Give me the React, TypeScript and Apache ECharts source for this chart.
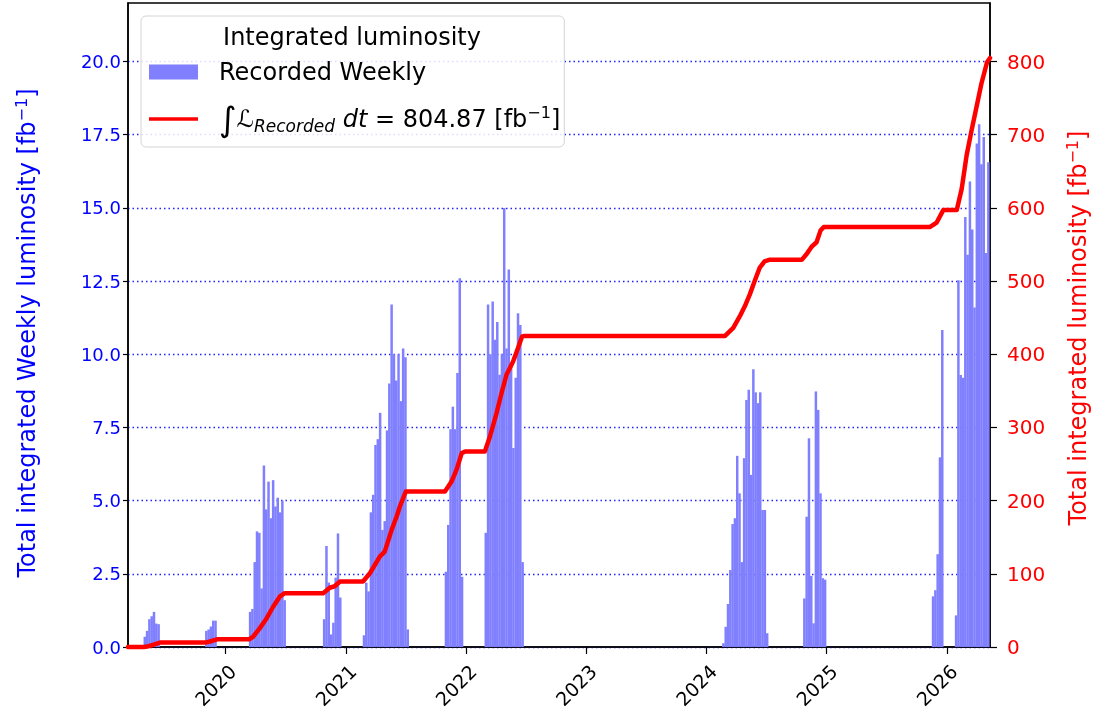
import React, { useEffect, useRef } from 'react';
import * as echarts from 'echarts';

const FONT = 'DejaVu Sans';
const DAY = 86400000;
const ts = (s: string) => {
  const [y, m, d] = s.split('-').map(Number);
  return Date.UTC(y, m - 1, d);
};

// x range and ticks
const xStart = '2019-03-11';
const xEnd = '2026-05-12';
const yearTicks = ['2020-01-01', '2021-01-01', '2022-01-01', '2023-01-01', '2024-01-01', '2025-01-01', '2026-01-01'];
const leftTicks = [0, 2.5, 5, 7.5, 10, 12.5, 15, 17.5, 20];
const rightTicks = [0, 100, 200, 300, 400, 500, 600, 700, 800];

// weekly recorded luminosity [fb^-1], runs of consecutive weeks (first week centre date)
const run2019aStart = '2019-05-01';
const run2019a = [0.35, 0.55, 0.95, 1.05, 1.2, 0.8, 0.78];
const run2019bStart = '2019-11-04';
const run2019b = [0.55, 0.6, 0.7, 0.9, 0.9];
const run2020Start = '2020-03-16';
const run2020 = [1.2, 1.3, 2.9, 3.95, 3.9, 2.0, 6.2, 4.7, 5.65, 4.4, 5.7, 4.8, 5.1, 4.6, 5.0, 1.6];
const run2020bStart = '2020-10-27';
const run2020b = [0.95, 3.45, 2.2, 0.43, 0.83, 2.37, 3.88, 1.69];
const run2021Start = '2021-02-25';
const run2021 = [0.4, 2.2, 1.9, 4.6, 5.2, 6.9, 7.1, 8.0, 4.0, 4.3, 7.4, 9.0, 11.7, 10.0, 9.1, 10.0, 8.4, 10.2, 9.9, 0.6];
const run2021bStart = '2021-11-01';
const run2021b = [2.57, 4.17, 7.44, 8.21, 7.44, 9.36, 12.6, 2.4];
const run2022Start = '2022-03-02';
const run2022 = [3.9, 11.7, 10.0, 11.8, 10.5, 11.1, 9.3, 10.0, 15.0, 10.2, 12.9, 9.6, 6.8, 9.2, 11.4, 11.0, 2.9];
const run2024Start = '2024-02-22';
const run2024 = [0.13, 0.69, 1.47, 2.63, 4.2, 4.4, 6.53, 5.25, 2.9, 6.45, 8.44, 8.79, 5.88, 9.49, 8.7, 8.33, 8.7, 4.68, 4.68, 0.47];
const run2024bStart = '2024-10-25';
const run2024b = [1.66, 4.45, 7.13, 2.43, 0.81, 8.73, 8.1, 5.25, 2.35, 2.3];
const run2025Start = '2025-11-20';
const run2025 = [1.73, 1.94, 3.17, 6.48, 10.83];
const run2026Start = '2026-01-29';
const run2026 = [1.08, 12.53, 9.29, 9.2, 14.69, 13.4, 15.9, 14.26, 11.6, 17.2, 17.86, 16.49, 17.42, 13.46, 16.56];

// cumulative recorded luminosity [fb^-1]
const cumDates = [
  '2019-03-11', '2019-04-28', '2019-05-12', '2019-05-26', '2019-06-16', '2019-11-01', '2019-11-15', '2019-12-06',
  '2020-03-13', '2020-03-25', '2020-04-14', '2020-05-05', '2020-05-25', '2020-06-14', '2020-06-29',
  '2020-10-24', '2020-11-13', '2020-11-28', '2020-12-14',
  '2021-02-22', '2021-03-15', '2021-04-14', '2021-04-29', '2021-05-20', '2021-06-04', '2021-06-14', '2021-07-02',
  '2021-10-29', '2021-11-18', '2021-12-03', '2021-12-19', '2021-12-29',
  '2022-02-27', '2022-03-15', '2022-04-04', '2022-04-19', '2022-05-04', '2022-05-24', '2022-06-08', '2022-06-20', '2022-06-27',
  '2024-02-27', '2024-03-23', '2024-04-12', '2024-04-27', '2024-05-12', '2024-05-27', '2024-06-11', '2024-06-26', '2024-07-10',
  '2024-10-17', '2024-11-01', '2024-11-16', '2024-12-01', '2024-12-13', '2024-12-23',
  '2025-11-11', '2025-12-01', '2025-12-21',
  '2026-01-31', '2026-02-15', '2026-03-02', '2026-03-17', '2026-04-01', '2026-04-16', '2026-05-03', '2026-05-12',
];
const cumValues = [
  0, 0, 1.0, 3.0, 6, 6, 7.5, 10.5,
  10.5, 14, 25.5, 39, 55, 68.8, 73.5,
  73.5, 81, 83, 89.5,
  89.5, 100.8, 123.5, 130.4, 160, 178, 192, 212.5,
  212.5, 226, 242, 265, 267,
  267, 288, 320, 347, 372, 390, 408.6, 424, 425,
  425, 436, 452, 465.5, 481.5, 500, 518, 527, 529,
  529, 537, 547, 553, 569, 574,
  574, 580, 597,
  597, 626, 672, 706, 738, 770, 799, 804.87,
];

const runs: [string, number[]][] = [
  [run2019aStart, run2019a], [run2019bStart, run2019b], [run2020Start, run2020], [run2020bStart, run2020b],
  [run2021Start, run2021], [run2021bStart, run2021b], [run2022Start, run2022], [run2024Start, run2024],
  [run2024bStart, run2024b], [run2025Start, run2025], [run2026Start, run2026],
];

const BAR_NAME = 'Recorded Weekly';
const LINE_NAME = 'Integrated';

export default function App() {
  const ref = useRef<HTMLDivElement>(null);
  useEffect(() => {
    if (!ref.current) return;
    const chart = echarts.init(ref.current, undefined, { renderer: 'svg' });
    const barData: [number, number][] = [];
    runs.forEach(([start, vals]) => {
      vals.forEach((v, i) => barData.push([ts(start) + i * 7 * DAY, v]));
    });
    const lineData = cumDates.map((d, i) => [ts(d), cumValues[i]]);
    const yearTs = yearTicks.map(ts);

    chart.setOption({
      animation: false,
      textStyle: { fontFamily: FONT },
      grid: { left: 128, right: 118, top: 3, bottom: 78, show: true, borderColor: '#000', borderWidth: 1.5 },
      legend: {
        orient: 'vertical',
        left: 141,
        top: 16,
        padding: [41, 4, 11, 8],
        itemGap: 15,
        itemWidth: 49,
        itemHeight: 15,
        backgroundColor: 'rgba(255,255,255,0.85)',
        borderColor: '#d4d4d4',
        borderWidth: 1,
        borderRadius: 5,
        data: [
          { name: BAR_NAME, icon: 'rect' },
          { name: LINE_NAME, icon: 'path://M0,0 L53,0 L53,4 L0,4 Z' },
        ],
        textStyle: {
          fontFamily: FONT,
          fontSize: 24,
          color: '#000',
          lineHeight: 30,
          padding: [0, 0, 0, 16],
          rich: {
            int: { fontSize: 34, lineHeight: 30, fontFamily: FONT, color: '#000' },
            cal: { fontSize: 24, lineHeight: 30, fontStyle: 'italic', fontFamily: FONT, color: '#000' },
            sub: { fontSize: 17, lineHeight: 18, fontStyle: 'italic', verticalAlign: 'bottom', fontFamily: FONT, color: '#000' },
            it: { fontSize: 24, lineHeight: 30, fontStyle: 'italic', fontFamily: FONT, color: '#000' },
            sup: { fontSize: 16, lineHeight: 16, verticalAlign: 'top', fontFamily: FONT, color: '#000' },
          },
        },
        formatter: (name: string) =>
          name === LINE_NAME ? '{int|∫}{cal|ℒ}{sub|Recorded}{it| dt} = 804.87 [fb{sup|−1}]' : name,
      },
      graphic: [
        {
          type: 'text',
          z: 100,
          x: 352,
          y: 37,
          style: {
            text: 'Integrated luminosity',
            font: `24px "${FONT}"`,
            fill: '#000',
            align: 'center',
            verticalAlign: 'middle',
          },
        },
      ],
      xAxis: {
        type: 'value',
        min: ts(xStart),
        max: ts(xEnd),
        axisLine: { show: true, lineStyle: { color: '#000', width: 1.5 } },
        axisTick: { show: true, length: 7, customValues: yearTs, lineStyle: { color: '#000', width: 1.2 } },
        axisLabel: {
          customValues: yearTs,
          rotate: 45,
          margin: 14,
          fontSize: 19,
          lineHeight: 20,
          align: 'right',
          verticalAlign: 'top',
          fontFamily: FONT,
          color: '#000',
          formatter: (v: number) => String(new Date(v).getUTCFullYear()),
        },
        splitLine: { show: false },
      },
      yAxis: [
        {
          type: 'value',
          position: 'left',
          min: 0,
          max: 22,
          interval: 2.5,
          name: 'Total integrated Weekly luminosity [fb{sup|−1}]',
          nameLocation: 'middle',
          nameRotate: 90,
          nameGap: 87,
          nameTextStyle: {
            color: '#0000ff',
            fontSize: 24,
            fontFamily: FONT,
            lineHeight: 28,
            padding: [0, 16, 0, 0],
            rich: { sup: { fontSize: 16, lineHeight: 16, verticalAlign: 'top', color: '#0000ff', fontFamily: FONT } },
          },
          axisLine: { show: true, lineStyle: { color: '#000', width: 1.5 } },
          axisTick: { show: true, length: 5, customValues: leftTicks, lineStyle: { color: '#000', width: 1.2 } },
          axisLabel: {
            customValues: leftTicks,
            color: '#0000ff',
            fontSize: 18,
            fontFamily: FONT,
            margin: 7,
            formatter: (v: number) => v.toFixed(1),
          },
          splitLine: { show: true, lineStyle: { color: '#2222ff', type: [1.5, 3], width: 1.4 } },
        },
        {
          type: 'value',
          position: 'right',
          min: 0,
          max: 880,
          interval: 100,
          name: 'Total integrated luminosity [fb{sup|−1}]',
          nameLocation: 'middle',
          nameRotate: 90,
          nameGap: 74,
          nameTextStyle: {
            color: '#ff0000',
            fontSize: 24,
            fontFamily: FONT,
            lineHeight: 28,
            padding: [0, 6, 0, 0],
            rich: { sup: { fontSize: 16, lineHeight: 16, verticalAlign: 'top', color: '#ff0000', fontFamily: FONT } },
          },
          axisLine: { show: true, lineStyle: { color: '#000', width: 1.5 } },
          axisTick: { show: true, length: 7, customValues: rightTicks, lineStyle: { color: '#000', width: 1.2 } },
          axisLabel: {
            customValues: rightTicks,
            color: '#ff0000',
            fontSize: 20,
            fontFamily: FONT,
            margin: 17,
            formatter: (v: number) => String(v),
          },
          splitLine: { show: false },
        },
      ],
      series: [
        {
          name: BAR_NAME,
          type: 'bar',
          yAxisIndex: 0,
          data: barData,
          barWidth: 2.5,
          itemStyle: { color: '#8080ff' },
          z: 2,
        },
        {
          name: LINE_NAME,
          type: 'line',
          yAxisIndex: 1,
          data: lineData,
          showSymbol: false,
          symbol: 'none',
          clip: false,
          lineStyle: { color: '#ff0000', width: 4.5, join: 'round', cap: 'round' },
          itemStyle: { color: '#ff0000' },
          z: 3,
        },
      ],
    });
    return () => chart.dispose();
  }, []);
  return <div ref={ref} style={{ position: 'fixed', left: 0, top: 0, width: 1108, height: 725 }} />;
}
